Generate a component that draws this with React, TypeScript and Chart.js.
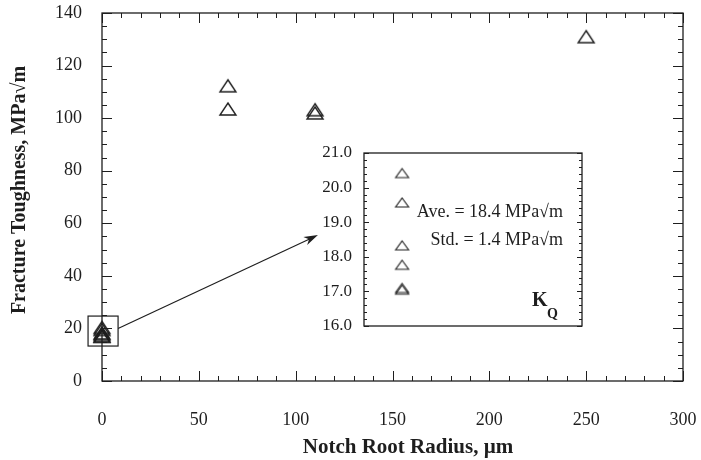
import React, { useEffect, useRef } from "react";
import { Chart, registerables } from "chart.js";
Chart.register(...registerables);

// ---- data ----
const notchRadius = [0, 0, 0, 0, 0, 0, 65, 65, 110, 110, 250];
const fractureToughness = [20.4, 19.6, 18.3, 17.8, 17.1, 17.0, 112.3, 103.5, 103.2, 102.0, 131.0];
const insetRadius = [0, 0, 0, 0, 0, 0];
const insetKQ = [20.42, 19.57, 18.33, 17.77, 17.1, 17.05];
const xTickValues = [0, 50, 100, 150, 200, 250, 300];
const yTickValues = [0, 20, 40, 60, 80, 100, 120, 140];
const insetTickValues = [16, 17, 18, 19, 20, 21];
const statLines = ["Ave. = 18.4 MPa√m", "Std. = 1.4 MPa√m"];
const xTitle = "Notch Root Radius, µm";
const yTitle = "Fracture Toughness, MPa√m";
const kLabel = "K";
const kSub = "Q";
// zoom box (data units) and arrow ends (data units)
const zoomBox = { x0: -7.2, x1: 8.3, y0: 13.3, y1: 24.7 };
const arrowFrom = { x: 8.3, y: 20 };
const arrowTo = { x: 111.5, y: 55.5 };

const SERIF = '"Liberation Serif", "Times New Roman", serif';
const INK = "#1e1e1e";

function makeTriangle(w: number, h: number, lw: number): HTMLCanvasElement {
  const c = document.createElement("canvas");
  const pad = Math.ceil(lw) + 1;
  c.width = w + pad * 2;
  c.height = h + pad * 2;
  const g = c.getContext("2d")!;
  g.strokeStyle = INK;
  g.lineWidth = lw;
  g.lineJoin = "miter";
  g.beginPath();
  g.moveTo(pad + w / 2, pad);
  g.lineTo(pad + w, pad + h);
  g.lineTo(pad, pad + h);
  g.closePath();
  g.stroke();
  return c;
}

function tickLoop(min: number, max: number, minor: number, major: number, cb: (v: number, isMajor: boolean) => void) {
  const n = Math.round((max - min) / minor);
  for (let i = 0; i <= n; i++) {
    const v = min + i * minor;
    const r = v / major;
    cb(v, Math.abs(r - Math.round(r)) < 1e-6);
  }
}

function noPad(s: any) {
  s.paddingTop = 0;
  s.paddingBottom = 0;
  s.paddingLeft = 0;
  s.paddingRight = 0;
}

const mainPlugin = {
  id: "mainDecor",
  afterDatasetsDraw(chart: any) {
    const { ctx, chartArea: a, scales } = chart;
    const xs = scales.x, ys = scales.y;
    ctx.save();
    ctx.strokeStyle = INK;
    ctx.lineWidth = 1.3;
    ctx.strokeRect(a.left, a.top, a.right - a.left, a.bottom - a.top);
    ctx.lineWidth = 1;
    tickLoop(0, 300, 10, 50, (v, M) => {
      const p = Math.round(xs.getPixelForValue(v)) + 0.5;
      const L = M ? 10 : 5;
      ctx.beginPath();
      ctx.moveTo(p, a.bottom); ctx.lineTo(p, a.bottom - L);
      ctx.moveTo(p, a.top); ctx.lineTo(p, a.top + L);
      ctx.stroke();
    });
    tickLoop(0, 140, 5, 20, (v, M) => {
      const p = Math.round(ys.getPixelForValue(v)) + 0.5;
      const L = M ? 10 : 5;
      ctx.beginPath();
      ctx.moveTo(a.left, p); ctx.lineTo(a.left + L, p);
      ctx.moveTo(a.right, p); ctx.lineTo(a.right - L, p);
      ctx.stroke();
    });
    // zoom box
    const bx0 = xs.getPixelForValue(zoomBox.x0), bx1 = xs.getPixelForValue(zoomBox.x1);
    const by0 = ys.getPixelForValue(zoomBox.y0), by1 = ys.getPixelForValue(zoomBox.y1);
    ctx.lineWidth = 1.2;
    ctx.strokeRect(bx0, by1, bx1 - bx0, by0 - by1);
    // arrow
    const ax0 = xs.getPixelForValue(arrowFrom.x), ay0 = ys.getPixelForValue(arrowFrom.y);
    const ax1 = xs.getPixelForValue(arrowTo.x), ay1 = ys.getPixelForValue(arrowTo.y);
    const ang = Math.atan2(ay1 - ay0, ax1 - ax0);
    const hl = 14, hw = 4.5;
    ctx.lineWidth = 1.2;
    ctx.beginPath();
    ctx.moveTo(ax0, ay0);
    ctx.lineTo(ax1 - Math.cos(ang) * hl * 0.7, ay1 - Math.sin(ang) * hl * 0.7);
    ctx.stroke();
    ctx.fillStyle = INK;
    ctx.beginPath();
    ctx.moveTo(ax1, ay1);
    const bx = ax1 - Math.cos(ang) * hl, by = ay1 - Math.sin(ang) * hl;
    ctx.lineTo(bx - Math.sin(ang) * hw, by + Math.cos(ang) * hw);
    ctx.lineTo(ax1 - Math.cos(ang) * hl * 0.7, ay1 - Math.sin(ang) * hl * 0.7);
    ctx.lineTo(bx + Math.sin(ang) * hw, by - Math.cos(ang) * hw);
    ctx.closePath();
    ctx.fill();
    // titles
    ctx.fillStyle = INK;
    ctx.textAlign = "center";
    ctx.textBaseline = "middle";
    ctx.font = `bold 21px ${SERIF}`;
    ctx.fillText(xTitle, 408, 448);
    ctx.font = `bold 20px ${SERIF}`;
    ctx.save();
    ctx.translate(20, 190);
    ctx.rotate(-Math.PI / 2);
    ctx.fillText(yTitle, 0, 0);
    ctx.restore();
    ctx.restore();
  },
};

const insetPlugin = {
  id: "insetDecor",
  beforeDraw(chart: any) {
    const { ctx, chartArea: a } = chart;
    ctx.save();
    ctx.fillStyle = "#fff";
    ctx.fillRect(a.left, a.top, a.right - a.left, a.bottom - a.top);
    ctx.restore();
  },
  afterDatasetsDraw(chart: any) {
    const { ctx, chartArea: a, scales } = chart;
    const ys = scales.y;
    ctx.save();
    ctx.strokeStyle = INK;
    ctx.lineWidth = 1.3;
    ctx.strokeRect(a.left, a.top, a.right - a.left, a.bottom - a.top);
    ctx.lineWidth = 1;
    tickLoop(16, 21, 0.2, 1, (v, M) => {
      const p = Math.round(ys.getPixelForValue(v)) + 0.5;
      const L = M ? 5 : 3;
      ctx.beginPath();
      ctx.moveTo(a.left, p); ctx.lineTo(a.left + L, p);
      ctx.moveTo(a.right, p); ctx.lineTo(a.right - L, p);
      ctx.stroke();
    });
    ctx.fillStyle = INK;
    ctx.font = `18px ${SERIF}`;
    ctx.textAlign = "right";
    ctx.textBaseline = "middle";
    ctx.fillText(statLines[0], a.left + 199, a.top + 59);
    ctx.fillText(statLines[1], a.left + 199, a.top + 87);
    ctx.textAlign = "left";
    ctx.textBaseline = "alphabetic";
    ctx.font = `bold 20px ${SERIF}`;
    ctx.fillText(kLabel, a.left + 168, a.top + 153);
    ctx.font = `bold 14px ${SERIF}`;
    ctx.fillText(kSub, a.left + 183, a.top + 165);
    ctx.restore();
  },
};

export default function App() {
  const mainRef = useRef<HTMLCanvasElement>(null);
  const insetRef = useRef<HTMLCanvasElement>(null);

  useEffect(() => {
    const bigTri = makeTriangle(16, 12, 1.4);
    const smallTri = makeTriangle(13, 9, 1.1);

    const main = new Chart(mainRef.current!, {
      type: "scatter",
      data: {
        datasets: [
          {
            data: notchRadius.map((x, i) => ({ x, y: fractureToughness[i] })),
            pointStyle: bigTri as any,
            pointRadius: 8,
            clip: false as any,
          },
        ],
      },
      options: {
        responsive: false,
        animation: false,
        events: [],
        layout: { padding: { left: 0, top: 13, right: 18, bottom: 0 } },
        plugins: { legend: { display: false }, tooltip: { enabled: false } },
        scales: {
          x: {
            type: "linear",
            min: 0,
            max: 300,
            afterBuildTicks: (s: any) => { s.ticks = xTickValues.map((v) => ({ value: v })); },
            afterFit: (s: any) => { s.height = 79; noPad(s); },
            grid: { display: false, drawTicks: false },
            border: { display: false },
            ticks: { font: { family: SERIF, size: 18 }, color: INK, padding: 28, maxRotation: 0 },
          },
          y: {
            type: "linear",
            min: 0,
            max: 140,
            afterBuildTicks: (s: any) => { s.ticks = yTickValues.map((v) => ({ value: v })); },
            afterFit: (s: any) => { s.width = 102; noPad(s); },
            grid: { display: false, drawTicks: false },
            border: { display: false },
            ticks: { font: { family: SERIF, size: 18 }, color: INK, padding: 20 },
          },
        },
      },
      plugins: [mainPlugin],
    });

    const inset = new Chart(insetRef.current!, {
      type: "scatter",
      data: {
        datasets: [
          {
            data: insetRadius.map((x, i) => ({ x, y: insetKQ[i] })),
            pointStyle: smallTri as any,
            pointRadius: 7,
          },
        ],
      },
      options: {
        responsive: false,
        animation: false,
        events: [],
        layout: { padding: { left: 0, top: 13, right: 8, bottom: 9 } },
        plugins: { legend: { display: false }, tooltip: { enabled: false } },
        scales: {
          x: { type: "linear", min: -11, max: 52, display: false },
          y: {
            type: "linear",
            min: 16,
            max: 21,
            afterBuildTicks: (s: any) => { s.ticks = insetTickValues.map((v) => ({ value: v })); },
            afterFit: (s: any) => { s.width = 64; noPad(s); },
            grid: { display: false, drawTicks: false },
            border: { display: false },
            ticks: {
              font: { family: SERIF, size: 17 },
              color: INK,
              padding: 12,
              callback: (v: any) => Number(v).toFixed(1),
            },
          },
        },
      },
      plugins: [insetPlugin],
    });

    return () => {
      main.destroy();
      inset.destroy();
    };
  }, []);

  return (
    <div style={{ position: "fixed", left: 0, top: 0, width: 701, height: 460, background: "#fff" }}>
      <canvas ref={mainRef} width={701} height={460} style={{ position: "absolute", left: 0, top: 0 }} />
      <canvas ref={insetRef} width={290} height={195} style={{ position: "absolute", left: 300, top: 140 }} />
    </div>
  );
}
